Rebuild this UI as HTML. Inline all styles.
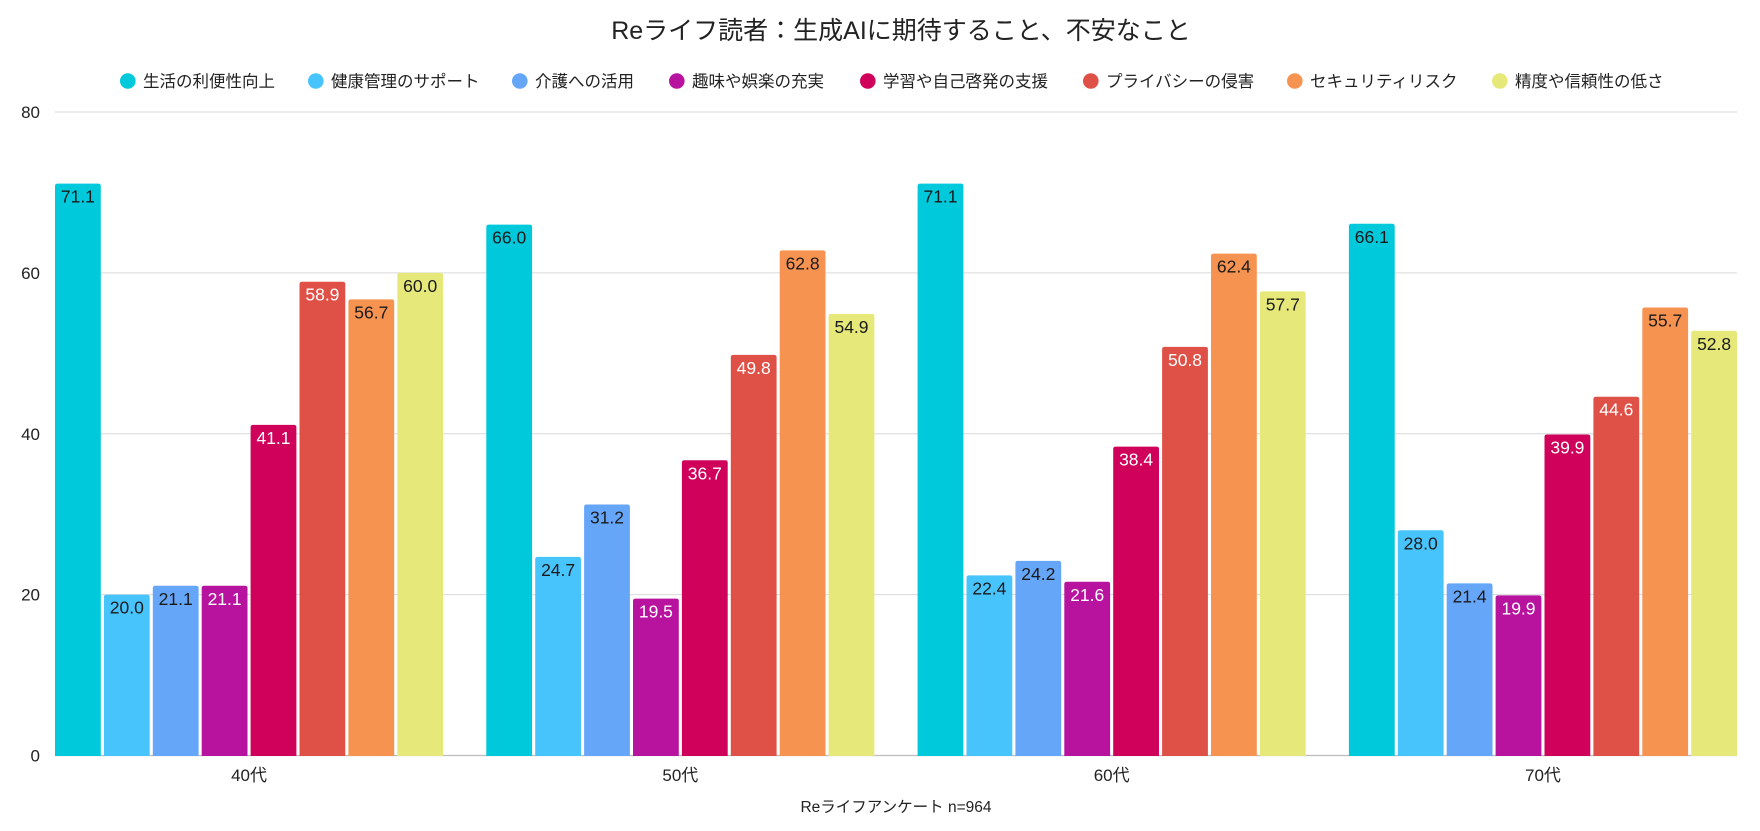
<!DOCTYPE html>
<html><head><meta charset="utf-8">
<style>
html,body{margin:0;padding:0;background:#fff;}
svg{display:block;font-family:"Liberation Sans","Noto Sans CJK JP",sans-serif;}
</style></head>
<body>
<svg width="1760" height="831" viewBox="0 0 1760 831" xmlns="http://www.w3.org/2000/svg">
<rect width="1760" height="831" fill="#fff"/>
<text x="901" y="39" font-size="25" text-anchor="middle" fill="#222">Reライフ読者：生成AIに期待すること、不安なこと</text>
<g font-size="16.5" fill="#222" id="legend"></g>
<g id="grid"></g>
<g id="bars"></g>
<text x="896" y="812" font-size="15.5" text-anchor="middle" fill="#222">Reライフアンケート n=964</text>
<script>
(function(){
var NS="http://www.w3.org/2000/svg";
function el(t,a,txt){var e=document.createElementNS(NS,t);for(var k in a)e.setAttribute(k,a[k]);if(txt!=null)e.textContent=txt;return e;}
var colors=["#00C9DC","#48C4FD","#66A6F9","#B7139F","#CF015A","#DF5147","#F79350","#E6E97A"];
var white=[false,false,false,true,true,true,false,false];
var names=["生活の利便性向上","健康管理のサポート","介護への活用","趣味や娯楽の充実","学習や自己啓発の支援","プライバシーの侵害","セキュリティリスク","精度や信頼性の低さ"];
var lx=[120,308,512,669,860,1083,1287,1492];
var lg=document.getElementById("legend");
for(var i=0;i<8;i++){
 lg.appendChild(el("circle",{cx:lx[i]+7.8,cy:81,r:7.8,fill:colors[i]}));
 lg.appendChild(el("text",{x:lx[i]+23,y:87,"font-size":16.5,fill:"#222"},names[i]));
}
var y0=755.5, k=(755.5-112)/80;
var g=document.getElementById("grid");
for(var v=20;v<=80;v+=20){
 var y=y0-v*k;
 g.appendChild(el("line",{x1:55,x2:1737,y1:y,y2:y,stroke:"#d9d9d9","stroke-width":1}));
}
g.appendChild(el("line",{x1:55,x2:1737,y1:y0,y2:y0,stroke:"#bdbdbd","stroke-width":1.2}));
for(var v=0;v<=80;v+=20){
 g.appendChild(el("text",{x:40,y:y0-v*k+6,"font-size":17,"text-anchor":"end",fill:"#222"},String(v)));
}
var data=[[71.1,20.0,21.1,21.1,41.1,58.9,56.7,60.0],[66.0,24.7,31.2,19.5,36.7,49.8,62.8,54.9],[71.1,22.4,24.2,21.6,38.4,50.8,62.4,57.7],[66.1,28.0,21.4,19.9,39.9,44.6,55.7,52.8]];
var cats=["40代","50代","60代","70代"];
var b=document.getElementById("bars");
var gp=431.3, bp=48.9, bw=45.8, r=2.5;
for(var gi=0;gi<4;gi++){
 var gx=55+gi*gp;
 for(var s=0;s<8;s++){
  var x=gx+s*bp, v=data[gi][s], top=y0-v*k;
  var d="M"+x+","+(y0+0.5)+"V"+(top+r)+"Q"+x+","+top+" "+(x+r)+","+top+"H"+(x+bw-r)+"Q"+(x+bw)+","+top+" "+(x+bw)+","+(top+r)+"V"+(y0+0.5)+"Z";
  b.appendChild(el("path",{d:d,fill:colors[s]}));
  b.appendChild(el("text",{x:x+bw/2,y:top+19,"font-size":17.5,"text-anchor":"middle",fill:white[s]?"#ffffff":"#1a1a1a"},v.toFixed(1)));
 }
 var cx=gx+(7*bp+bw)/2;
 b.appendChild(el("text",{x:cx,y:781,"font-size":17,"text-anchor":"middle",fill:"#222"},cats[gi]));
}
})();
</script>
</svg>
</body></html>
